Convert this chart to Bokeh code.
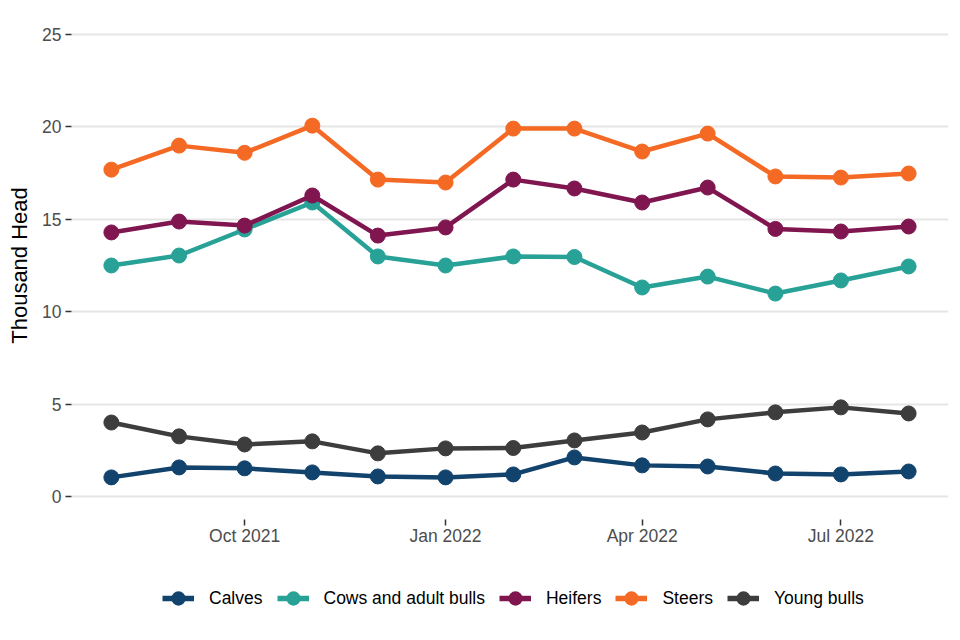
import datetime as dt
from bokeh.plotting import figure
from bokeh.layouts import column
from bokeh.models import (Range1d, FixedTicker, DatetimeTickFormatter, Legend, LegendItem)
from bokeh.embed import file_html
from bokeh.resources import INLINE

months = [dt.datetime(2021, 8, 1), dt.datetime(2021, 9, 1), dt.datetime(2021, 10, 1),
          dt.datetime(2021, 11, 1), dt.datetime(2021, 12, 1), dt.datetime(2022, 1, 1),
          dt.datetime(2022, 2, 1), dt.datetime(2022, 3, 1), dt.datetime(2022, 4, 1),
          dt.datetime(2022, 5, 1), dt.datetime(2022, 6, 1), dt.datetime(2022, 7, 1),
          dt.datetime(2022, 8, 1)]

calves = [1.03, 1.57, 1.52, 1.30, 1.08, 1.03, 1.19, 2.11, 1.68, 1.62, 1.24, 1.19, 1.35]
cows = [12.50, 13.04, 14.45, 15.91, 12.99, 12.50, 12.99, 12.96, 11.31, 11.90, 10.98, 11.69, 12.45]
heifers = [14.29, 14.88, 14.66, 16.29, 14.12, 14.56, 17.15, 16.67, 15.91, 16.72, 14.48, 14.34, 14.61]
steers = [17.69, 18.99, 18.60, 20.07, 17.15, 16.99, 19.91, 19.91, 18.67, 19.64, 17.32, 17.26, 17.48]
young_bulls = [4.00, 3.25, 2.81, 2.98, 2.33, 2.60, 2.62, 3.03, 3.46, 4.17, 4.55, 4.82, 4.49]

series_names = ["Calves", "Cows and adult bulls", "Heifers", "Steers", "Young bulls"]
series_values = [calves, cows, heifers, steers, young_bulls]
series_colors = ["#12436D", "#28A197", "#801650", "#F46A25", "#3D3D3D"]

x_ticks = [dt.datetime(2021, 10, 1), dt.datetime(2022, 1, 1), dt.datetime(2022, 4, 1), dt.datetime(2022, 7, 1)]
y_ticks = [0, 5, 10, 15, 20, 25]

FONT = "Liberation Sans"
W = 958

p = figure(width=W, height=560, x_axis_type="datetime", output_backend="svg",
           toolbar_location=None, min_border_left=71, min_border_right=W - 948,
           min_border_top=11, min_border_bottom=41)
p.x_range = Range1d(dt.datetime(2021, 7, 13, 18), dt.datetime(2022, 8, 19, 6))
p.y_range = Range1d(-1.25, 26.25)

for name, vals, col in zip(series_names, series_values, series_colors):
    p.line(months, vals, line_color=col, line_width=4.5)
    p.scatter(months, vals, size=15, fill_color=col, line_color=col, line_width=1)

p.outline_line_color = None
p.xgrid.grid_line_color = None
p.ygrid.grid_line_color = "#E6E6E6"
p.ygrid.grid_line_width = 2
p.ygrid.ticker = FixedTicker(ticks=y_ticks)

p.xaxis.ticker = FixedTicker(ticks=[d.timestamp() * 1000 for d in x_ticks], minor_ticks=[])
p.xaxis.formatter = DatetimeTickFormatter(months="%b %Y", days="%b %Y", years="%b %Y")
p.yaxis.ticker = FixedTicker(ticks=y_ticks, minor_ticks=[])

for ax in (p.xaxis, p.yaxis):
    ax.axis_line_color = None
    ax.major_tick_line_color = "#333333"
    ax.major_tick_line_width = 1.5
    ax.major_tick_in = 0
    ax.major_tick_out = 6
    ax.minor_tick_line_color = None
    ax.major_label_text_font = FONT
    ax.major_label_text_font_size = "17.5px"
    ax.major_label_text_color = "#4D4D4D"

p.yaxis.major_label_standoff = 4
p.xaxis.major_label_standoff = 0
p.yaxis.axis_label = "Thousand Head"
p.yaxis.axis_label_text_font = FONT
p.yaxis.axis_label_text_font_size = "22px"
p.yaxis.axis_label_text_font_style = "normal"
p.yaxis.axis_label_text_color = "#000000"
p.yaxis.axis_label_standoff = 7

# legend strip below the chart (its glyphs sit outside the visible range)
lg = figure(width=W, height=76, output_backend="svg", toolbar_location=None,
            min_border=0, x_axis_type=None, y_axis_type=None,
            x_range=Range1d(0, 1), y_range=Range1d(0, 1))
lg.outline_line_color = None
lg.xgrid.grid_line_color = None
lg.ygrid.grid_line_color = None
items = []
for name, col in zip(series_names, series_colors):
    ln = lg.line(x=[-5, -4], y=[-5, -4], line_color=col, line_width=5.5)
    sc = lg.scatter(x=[-5], y=[-5], size=15, fill_color=col, line_color=col, line_width=1.5)
    items.append(LegendItem(label=name, renderers=[ln, sc]))

legend = Legend(items=items, orientation="horizontal", location=(91, 21))
legend.label_text_font = FONT
legend.label_text_font_size = "17.5px"
legend.label_text_color = "#000000"
legend.glyph_width = 32
legend.glyph_height = 34
legend.spacing = 14
legend.label_standoff = 15
legend.border_line_color = None
legend.background_fill_alpha = 0
legend.margin = 0
legend.padding = 0
lg.add_layout(legend, "center")

layout = column(p, lg, spacing=0)
open("out.html", "w").write(file_html(layout, INLINE))
